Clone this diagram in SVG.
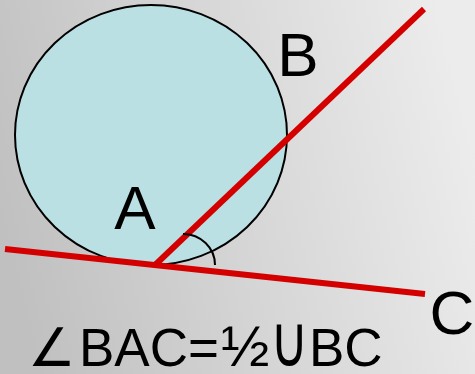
<svg xmlns="http://www.w3.org/2000/svg" width="475" height="374" viewBox="0 0 475 374">
<defs>
<linearGradient id="bg" x1="0" y1="0.6" x2="1" y2="0.4">
<stop offset="0" stop-color="#c0c0c0"/>
<stop offset="1" stop-color="#ececec"/>
</linearGradient>
<style>
.lbl{font-family:"Liberation Sans",Arial,sans-serif;font-size:62px;fill:#000;text-anchor:middle}
.red{stroke:#d40000;stroke-width:6;fill:none}
.f{font-family:"Liberation Sans",Arial,"DejaVu Sans",sans-serif;font-size:53px;fill:#000}
</style>
</defs>
<rect width="475" height="374" fill="url(#bg)"/>
<g id="circle">
<ellipse cx="151" cy="135" rx="136" ry="130" fill="#bae0e3" stroke="#000" stroke-width="2"/>
</g>
<g id="connectors">
<line class="red" x1="5" y1="249" x2="425" y2="294"/>
<line class="red" x1="155" y1="265" x2="424" y2="9"/>
<path d="M183,234 A32,31 0 0 1 215,265" fill="none" stroke="#000" stroke-width="2"/>
</g>
<g id="labelA"><text class="lbl" x="135" y="229">A</text></g>
<g id="labelB"><text class="lbl" x="298" y="76">B</text></g>
<g id="labelC"><text class="lbl" x="452" y="334">C</text></g>
<g id="formula">
<text class="f" y="366"><tspan x="28">∠</tspan><tspan x="79">BAC=</tspan><tspan x="221" font-size="58">½</tspan></text>
<text class="f" transform="translate(270,366) scale(1,1.35)" x="0" y="0" font-family="'DejaVu Sans',sans-serif" font-size="66">∪</text>
<text class="f" x="309" y="366">BC</text>
</g>
</svg>
